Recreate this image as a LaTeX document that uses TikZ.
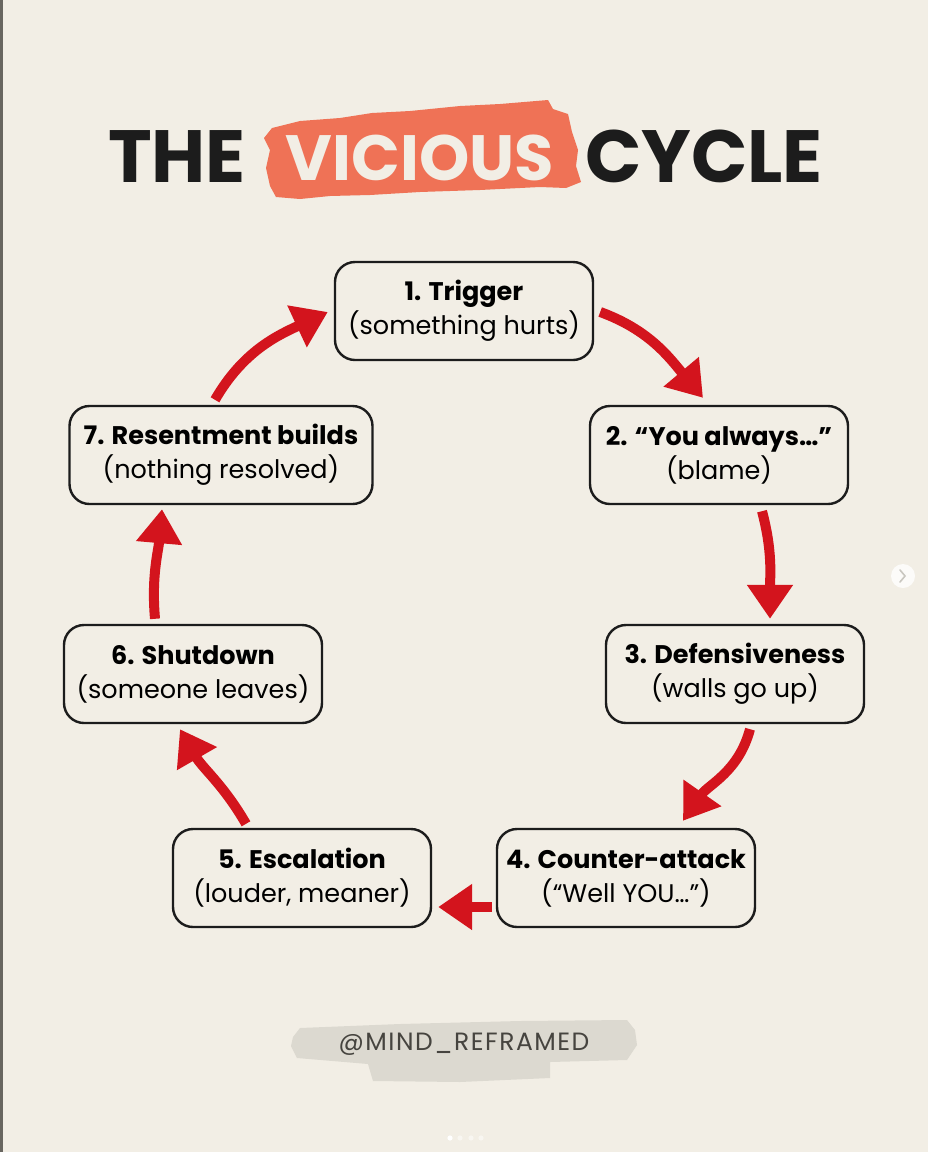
\documentclass[tikz,border=0pt]{standalone}
\usepackage{fontspec}
\setmainfont{Poppins}
\usepackage{tikz}
\usetikzlibrary{arrows.meta,calc}
\definecolor{paper}{HTML}{F2EEE5}
\definecolor{brush}{HTML}{EF7256}
\definecolor{flowred}{HTML}{D3141D}
\definecolor{ink}{HTML}{1C1C1C}
\definecolor{smudge}{HTML}{DCD9D0}
\definecolor{tag}{HTML}{46443F}
\tikzset{
 stage/.style={draw=ink,line width=2.4pt,rounded corners=20pt,minimum width=258pt,minimum height=98pt,align=center,inner sep=0pt,font=\fontsize{25.5}{34}\selectfont},
 flow/.style={flowred,line width=10pt,-{Triangle[width=44pt,length=34pt]}},
 title/.style={anchor=base,font=\fontsize{74}{74}\selectfont\bfseries},
}

\begin{document}
\begin{tikzpicture}[x=1pt,y=-1pt]
\useasboundingbox(0,0)rectangle(928,1152);
\fill[paper](0,0)rectangle(928,1152);
\fill[tag!80!paper](0,0)rectangle(2.5,1152);
% title
\fill[brush](272,128)--(300,121)--(340,118)--(372,113)--(410,111)--(460,106)--(500,104)--(548,100)--(553,109)--(568,114)--(572,132)--(578,150)--(576,166)--(581,182)--(566,188)--(540,187)--(480,190)--(420,192)--(370,195)--(330,196)--(300,199)--(276,197)--(270,186)--(266,168)--(270,150)--(264,138)--cycle;
\node[title,ink](the)at(177,182){THE};
\node[title,paper,font=\fontsize{64}{64}\selectfont\bfseries](vic)at(420,180){VICIOUS};
\node[title,ink](cyc)at(704,182){CYCLE};
% stages
\node[stage](trig)at(464,311){\textbf{1. Trigger}\\(something hurts)};
\node[stage](blame)at(719,455){\textbf{2. “You always…”}\\(blame)};
\node[stage](defn)at(735,674){\textbf{3. Defensiveness}\\(walls go up)};
\node[stage](cntr)at(626,878){\textbf{4. Counter-attack}\\(“Well YOU…”)};
\node[stage](esc)at(302,878){\textbf{5. Escalation}\\(louder, meaner)};
\node[stage](shut)at(193,674){\textbf{6. Shutdown}\\(someone leaves)};
\node[stage,minimum width=303pt](resent)at(221,455){\textbf{7. Resentment builds}\\(nothing resolved)};
% arrows
\draw[flow]($(trig.east)+(6,1)$)to[out=-20,in=130]($(blame.north)+(-16,-7)$);
\draw[flow]($(blame.south)+(43,6)$)to[out=-75,in=90]($(defn.north)+(35,-5)$);
\draw[flow]($(defn.south)+(15,5)$)to[out=-105,in=55]($(cntr.north)+(57,-7)$);
\draw[flow]($(cntr.west)+(-4,29)$)--($(esc.east)+(6,29)$);
\draw[flow]($(esc.north)+(-56,-4)$)to[out=120,in=-60]($(shut.south)+(-13,5)$);
\draw[flow]($(shut.north)+(-38,-5)$)to[out=95,in=-95]($(resent.south)+(-59,4)$);
\draw[flow]($(resent.north)+(-6,-5)$)to[out=60,in=-155]($(trig.west)+(-6,1)$);
% footer
\fill[smudge](293,1037)--(300,1028)--(400,1024)--(520,1021)--(627,1020)--(635,1030)--(637,1045)--(627,1060)--(550,1062)--(550,1078)--(460,1082)--(373,1081)--(368,1064)--(297,1058)--(291,1046)--cycle;
\node[tag,font=\fontsize{25}{25}\selectfont\addfontfeatures{LetterSpace=6}](handle)at(464,1044){@MIND\_REFRAMED};
\fill[white!75!paper](903,576)circle(12);
\draw[smudge!80!gray,line width=1.6pt,line cap=round](900,570)--(905,576)--(900,582);
\foreach \x/\c in {450/white,460/white!45!paper,471/white!45!paper,481/white!45!paper}\fill[\c](\x,1138)circle(2.6);
\end{tikzpicture}
\end{document}
